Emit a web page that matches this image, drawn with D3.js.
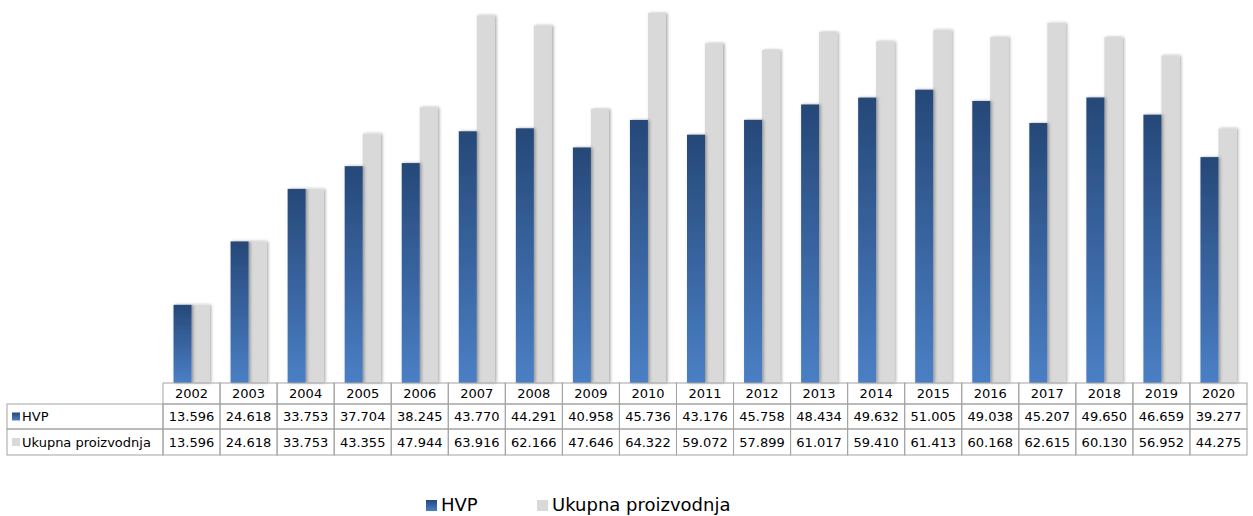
<!DOCTYPE html>
<html><head><meta charset="utf-8">
<script src="https://cdn.jsdelivr.net/npm/d3@7"></script>
<style>body{margin:0;background:#fff;}svg{display:block;font-family:"DejaVu Sans",Verdana,sans-serif;}</style>
</head><body>
<svg id="c" width="1253" height="516"></svg>
<script>
const years = ["2002","2003","2004","2005","2006","2007","2008","2009","2010","2011","2012","2013","2014","2015","2016","2017","2018","2019","2020"];
const hvp = [13.596,24.618,33.753,37.704,38.245,43.770,44.291,40.958,45.736,43.176,45.758,48.434,49.632,51.005,49.038,45.207,49.650,46.659,39.277];
const ukupna = [13.596,24.618,33.753,43.355,47.944,63.916,62.166,47.646,64.322,59.072,57.899,61.017,59.410,61.413,60.168,62.615,60.130,56.952,44.275];
const seriesNames = ["HVP","Ukupna proizvodnja"];
const fmt = v => v.toFixed(3);

const svg = d3.select("#c");
const defs = svg.append("defs");
const g1 = defs.append("linearGradient").attr("id","gBlue").attr("x1",0).attr("y1",0).attr("x2",0).attr("y2",1);
g1.append("stop").attr("offset","0%").attr("stop-color","#264878");
g1.append("stop").attr("offset","100%").attr("stop-color","#4a7fc5");
const f = defs.append("filter").attr("id","sh").attr("x","-50%").attr("y","-10%").attr("width","200%").attr("height","120%");
f.append("feDropShadow").attr("dx",1.5).attr("dy",0).attr("stdDeviation",1.6).attr("flood-color","#000").attr("flood-opacity",0.35);

const left = 163, right = 1247, plotBottom = 383;
const x = d3.scaleBand().domain(years).range([left,right]).padding(0);
const y = d3.scaleLinear().domain([0,66.6]).range([plotBottom,0]);
const barW = 18;

const bars = svg.append("g");
years.forEach((yr,i)=>{
  const cx = x(yr) + x.bandwidth()/2;
  bars.append("rect").attr("x",cx).attr("width",barW).attr("y",y(ukupna[i])).attr("height",plotBottom-y(ukupna[i]))
    .attr("fill","#d9d9d9").attr("filter","url(#sh)");
  bars.append("rect").attr("x",cx-barW).attr("width",barW).attr("y",y(hvp[i])).attr("height",plotBottom-y(hvp[i]))
    .attr("fill","url(#gBlue)").attr("filter","url(#sh)");
});

// data table
const rowTops = [383,404,429,455];
const tbl = svg.append("g");
const lc = "#a3a3a3";
years.forEach((yr,i)=>{
  tbl.append("rect").attr("x",x(yr)).attr("y",rowTops[0]).attr("width",x.bandwidth()).attr("height",rowTops[1]-rowTops[0])
    .attr("fill","none").attr("stroke",lc);
  tbl.append("text").attr("x",x(yr)+x.bandwidth()/2).attr("y",(rowTops[0]+rowTops[1])/2).attr("dy","0.35em")
    .attr("text-anchor","middle").attr("font-size",13).text(yr);
});
const rowsData = [hvp, ukupna];
const swFill = ["url(#gBlue)","#d9d9d9"];
rowsData.forEach((arr,r)=>{
  const t = rowTops[r+1], b = rowTops[r+2], mid=(t+b)/2;
  tbl.append("rect").attr("x",7).attr("y",t).attr("width",left-7).attr("height",b-t).attr("fill","none").attr("stroke",lc);
  tbl.append("rect").attr("x",12).attr("y",mid-4).attr("width",8).attr("height",8).attr("fill",swFill[r]);
  tbl.append("text").attr("x",22).attr("y",mid).attr("dy","0.35em").attr("font-size",13).text(seriesNames[r]);
  years.forEach((yr,i)=>{
    tbl.append("rect").attr("x",x(yr)).attr("y",t).attr("width",x.bandwidth()).attr("height",b-t).attr("fill","none").attr("stroke",lc);
    tbl.append("text").attr("x",x(yr)+x.bandwidth()/2).attr("y",mid).attr("dy","0.35em")
      .attr("text-anchor","middle").attr("font-size",13).text(fmt(arr[i]));
  });
});

// legend
const leg = svg.append("g");
const legX = [426,537];
seriesNames.forEach((n,i)=>{
  leg.append("rect").attr("x",legX[i]).attr("y",500).attr("width",11).attr("height",11).attr("fill",swFill[i]);
  leg.append("text").attr("x",legX[i]+15).attr("y",505).attr("dy","0.35em").attr("font-size",18).text(n);
});
</script>
</body></html>
